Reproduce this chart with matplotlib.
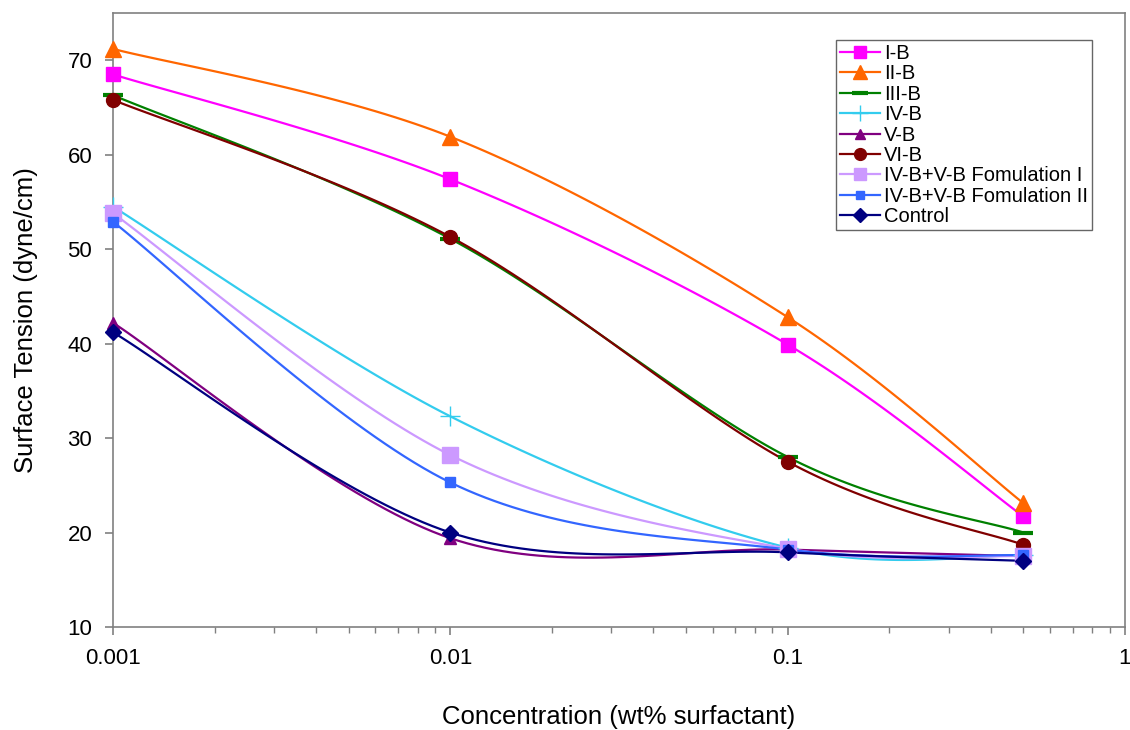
import numpy as np
import matplotlib
matplotlib.use("Agg")
import matplotlib.pyplot as plt
from matplotlib.ticker import LogLocator, FixedLocator, FixedFormatter, NullFormatter

plt.rcParams["font.family"] = ["Liberation Sans", "DejaVu Sans"]

conc = [0.001, 0.01, 0.1, 0.5]
series_names = ["I-B", "II-B", "III-B", "IV-B", "V-B", "VI-B",
                "IV-B+V-B Fomulation I", "IV-B+V-B Fomulation II", "Control"]
I_B = [68.5, 57.4, 39.9, 21.7]
II_B = [71.2, 61.9, 42.8, 23.1]
III_B = [66.3, 51.1, 28.0, 20.0]
IV_B = [54.5, 32.3, 18.4, 17.6]
V_B = [42.2, 19.4, 18.2, 17.5]
VI_B = [65.8, 51.3, 27.5, 18.7]
Form_I = [53.8, 28.2, 18.3, 17.5]
Form_II = [52.9, 25.3, 18.2, 17.6]
Control = [41.2, 20.0, 17.9, 17.0]
values = [I_B, II_B, III_B, IV_B, V_B, VI_B, Form_I, Form_II, Control]

styles = [
    dict(color="#FF00FF", marker="s", ms=10),
    dict(color="#FF6600", marker="^", ms=12),
    dict(color="#008000", marker="_", ms=14, mew=3),
    dict(color="#33CCEE", marker="+", ms=14, mew=1),
    dict(color="#800080", marker="^", ms=8),
    dict(color="#800000", marker="o", ms=10),
    dict(color="#CC99FF", marker="s", ms=11),
    dict(color="#3366FF", marker="s", ms=7),
    dict(color="#000080", marker="D", ms=8),
]


def smooth(xs, ys, n=40):
    u = np.log10(np.asarray(xs, float))
    v = np.asarray(ys, float)
    P = np.column_stack([u, v])
    out = []
    m = len(P)
    for i in range(m - 1):
        p0 = P[i - 1] if i > 0 else P[i]
        p1 = P[i]
        p2 = P[i + 1]
        p3 = P[i + 2] if i + 2 < m else P[i + 1]
        c1 = p1 + (p2 - p0) / 6.0
        c2 = p2 - (p3 - p1) / 6.0
        t = np.linspace(0, 1, n)[:, None]
        b = ((1 - t) ** 3) * p1 + 3 * ((1 - t) ** 2) * t * c1 + 3 * (1 - t) * t ** 2 * c2 + t ** 3 * p2
        out.append(b if i == 0 else b[1:])
    out = np.vstack(out)
    return 10 ** out[:, 0], out[:, 1]


fig = plt.figure(figsize=(11.3, 7.3), dpi=100)
ax = fig.add_axes([113 / 1130, 103 / 730, (1125 - 113) / 1130, (627 - 13) / 730])

for name, vals, st in zip(series_names, values, styles):
    sx, sy = smooth(conc, vals)
    ax.plot(sx, sy, color=st["color"], lw=1.6, zorder=2)
    ax.plot(conc, vals, linestyle="none", marker=st["marker"], color=st["color"],
            ms=st["ms"], mew=st.get("mew", 1), zorder=3, clip_on=False)
    ax.plot([], [], color=st["color"], lw=1.6, marker=st["marker"],
            ms=st["ms"] * 0.85, mew=st.get("mew", 1), label=name)

ax.set_xscale("log")
ax.set_xlim(0.001, 1)
ax.set_ylim(10, 75)
ax.set_yticks([10, 20, 30, 40, 50, 60, 70])
ax.xaxis.set_major_locator(FixedLocator([0.001, 0.01, 0.1, 1]))
ax.xaxis.set_major_formatter(FixedFormatter(["0.001", "0.01", "0.1", "1"]))
ax.xaxis.set_minor_locator(LogLocator(base=10, subs=np.arange(2, 10)))
ax.xaxis.set_minor_formatter(NullFormatter())

for s in ax.spines.values():
    s.set_color("#808080")
    s.set_linewidth(1.2)
ax.tick_params(axis="both", which="major", direction="out", length=6, color="#808080",
               labelsize=16, width=1.2, pad=9)
ax.tick_params(axis="x", which="minor", direction="out", length=4, color="#808080", width=1)

ax.set_xlabel("Concentration (wt% surfactant)", fontsize=18.5)
ax.set_ylabel("Surface Tension (dyne/cm)", fontsize=18.5)
ax.xaxis.set_label_coords(0.5, (627 - 705) / 614)
ax.yaxis.set_label_coords((38 - 113) / 1012, 0.5)

leg = ax.legend(loc="upper left", bbox_to_anchor=((836 - 113) / 1012, (627 - 40) / 614),
                fontsize=14.5, frameon=True, fancybox=False, borderpad=0.2,
                labelspacing=0.07, handlelength=2.0, handletextpad=0.2, borderaxespad=0)
leg.get_frame().set_edgecolor("#404040")
leg.get_frame().set_linewidth(1.0)

fig.savefig("out.png", dpi=100)
